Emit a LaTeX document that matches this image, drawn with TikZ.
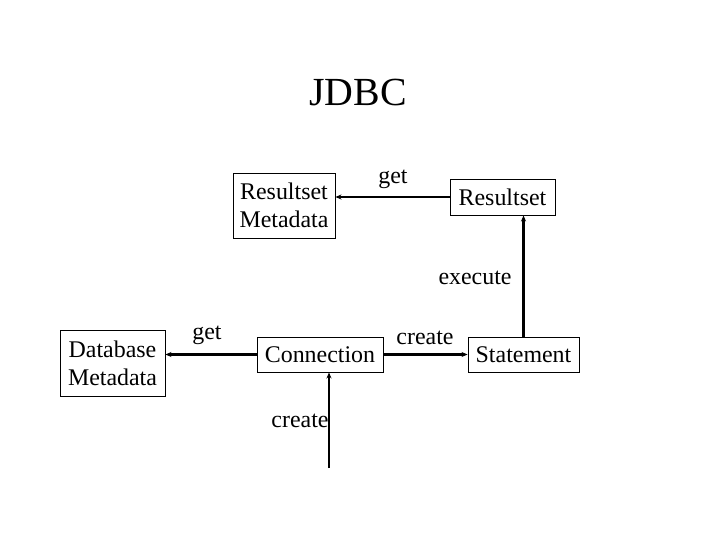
\documentclass[tikz,border=0pt]{standalone}
\usepackage{fontspec}
\setmainfont{Liberation Serif}
\usetikzlibrary{arrows.meta}

\begin{document}
\begin{tikzpicture}[x=1bp,y=-1bp,>={Stealth[length=6bp,width=5bp]},
    box/.style={draw,line width=0.9bp,inner sep=0pt,align=center,font=\fontsize{24}{28}\selectfont},
    lbl/.style={inner sep=0pt,font=\fontsize{24}{28}\selectfont},
    link/.style={->,line width=2.5bp}]
    \useasboundingbox (0,0) rectangle (720,540);
    \node[font=\fontsize{40}{44}\selectfont] (title) at (358,93) {JDBC};
    % boxes
    \node[box,minimum width=102bp,minimum height=65bp] (rsmeta) at (284,205.5) {Resultset\\Metadata};
    \node[box,minimum width=105bp,minimum height=36bp] (rs) at (502.5,197) {Resultset};
    \node[box,minimum width=105bp,minimum height=66bp] (dbmeta) at (112.5,363) {Database\\Metadata};
    \node[box,minimum width=126bp,minimum height=35bp] (conn) at (320,354.5) {Connection};
    \node[box,minimum width=111bp,minimum height=35bp] (stmt) at (523.5,354.5) {Statement};
    % labels
    \node[lbl] (getrs) at (393,179) {get};
    \node[lbl] (exec) at (475,278) {execute};
    \node[lbl] (getdb) at (207,335) {get};
    \node[lbl] (crstmt) at (425,338) {create};
    \node[lbl] (crconn) at (300,421) {create};
    \coordinate (cin) at (329,468);
    % connectors
    \draw[link] (rs.west) -- (rsmeta.east |- rs.west);
    \draw[link] (conn.west) -- (dbmeta.east |- conn.west);
    \draw[link] (conn.east) -- (stmt.west);
    \draw[link] (stmt.north) -- (stmt.north |- rs.south);
    \draw[link] (cin) -- (cin |- conn.south);
\end{tikzpicture}
\end{document}
